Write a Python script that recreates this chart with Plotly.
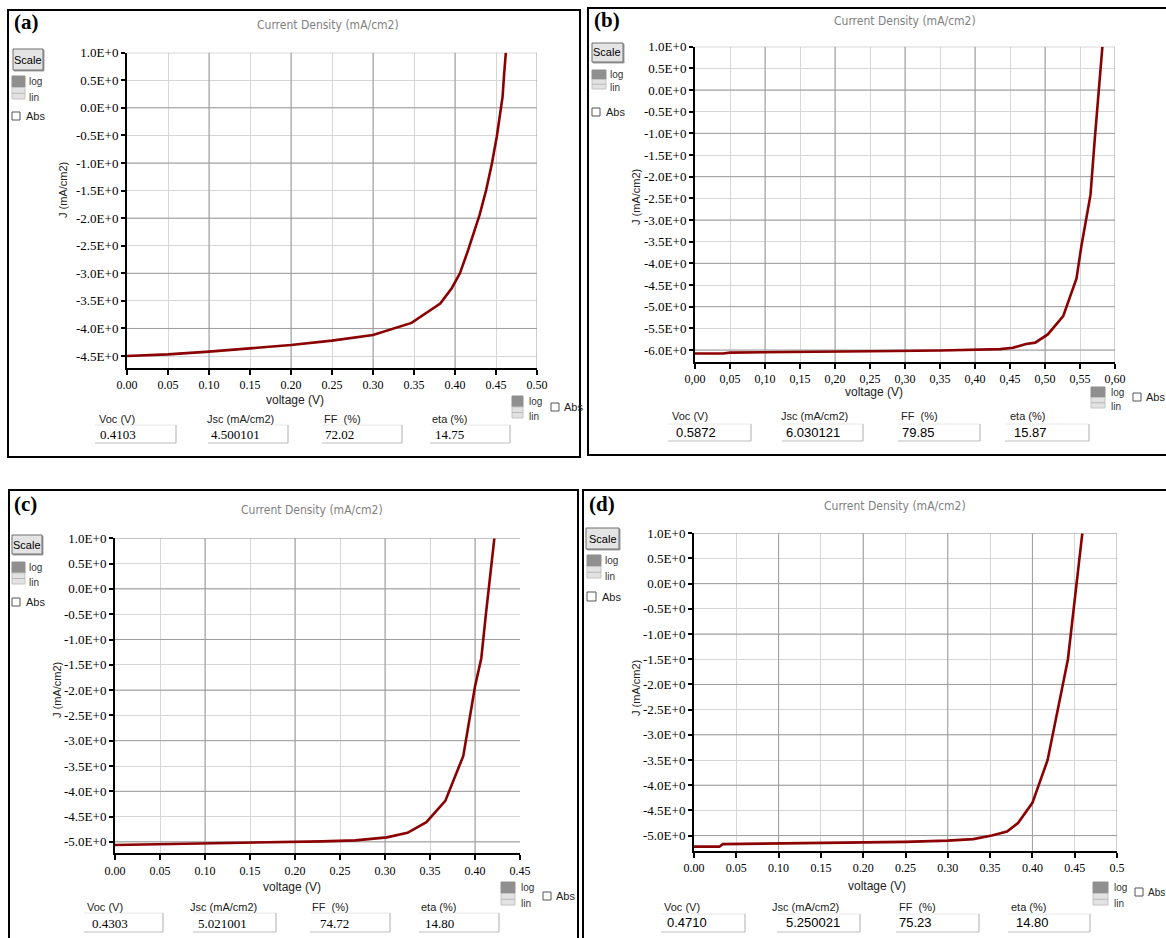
import plotly.graph_objects as go

W, H = 1166, 938

# ---------------- data ----------------
V_a = [0.0, 0.05, 0.10, 0.15, 0.20, 0.25, 0.30, 0.347, 0.382, 0.396, 0.406, 0.416, 0.430, 0.438, 0.445, 0.451, 0.456, 0.458, 0.460, 0.462]
J_a = [-4.50, -4.47, -4.42, -4.36, -4.30, -4.22, -4.12, -3.90, -3.55, -3.27, -3.00, -2.58, -1.94, -1.49, -1.01, -0.52, -0.01, 0.20, 0.63, 1.00]

V_b = [0.0, 0.04, 0.05, 0.15, 0.25, 0.35, 0.40, 0.436, 0.454, 0.473, 0.486, 0.504, 0.526, 0.545, 0.552, 0.565, 0.571, 0.578, 0.582]
J_b = [-6.08, -6.08, -6.06, -6.05, -6.03, -6.01, -6.00, -5.98, -5.95, -5.86, -5.83, -5.64, -5.22, -4.35, -3.60, -2.42, -1.15, 0.15, 1.00]

V_c = [0.0, 0.036, 0.10, 0.172, 0.23, 0.267, 0.302, 0.325, 0.346, 0.367, 0.387, 0.400, 0.407, 0.412, 0.417, 0.4215]
J_c = [-5.06, -5.05, -5.03, -5.01, -4.99, -4.97, -4.91, -4.82, -4.61, -4.19, -3.30, -1.93, -1.37, -0.52, 0.24, 1.00]

V_d = [0.0, 0.030, 0.034, 0.10, 0.19, 0.25, 0.30, 0.33, 0.352, 0.37, 0.383, 0.40, 0.418, 0.442, 0.459]
J_d = [-5.22, -5.22, -5.17, -5.16, -5.14, -5.125, -5.10, -5.07, -5.00, -4.92, -4.75, -4.35, -3.50, -1.50, 1.00]

yt_a_vals = [1.0, 0.5, 0.0, -0.5, -1.0, -1.5, -2.0, -2.5, -3.0, -3.5, -4.0, -4.5]
yt_a_text = ["1.0E+0", "0.5E+0", "0.0E+0", "-0.5E+0", "-1.0E+0", "-1.5E+0", "-2.0E+0", "-2.5E+0", "-3.0E+0", "-3.5E+0", "-4.0E+0", "-4.5E+0"]
yt_b_vals = [1.0, 0.5, 0.0, -0.5, -1.0, -1.5, -2.0, -2.5, -3.0, -3.5, -4.0, -4.5, -5.0, -5.5, -6.0]
yt_b_text = ["1.0E+0", "0.5E+0", "0.0E+0", "-0.5E+0", "-1.0E+0", "-1.5E+0", "-2.0E+0", "-2.5E+0", "-3.0E+0", "-3.5E+0", "-4.0E+0", "-4.5E+0", "-5.0E+0", "-5.5E+0", "-6.0E+0"]
yt_cd_vals = [1.0, 0.5, 0.0, -0.5, -1.0, -1.5, -2.0, -2.5, -3.0, -3.5, -4.0, -4.5, -5.0]
yt_cd_text = ["1.0E+0", "0.5E+0", "0.0E+0", "-0.5E+0", "-1.0E+0", "-1.5E+0", "-2.0E+0", "-2.5E+0", "-3.0E+0", "-3.5E+0", "-4.0E+0", "-4.5E+0", "-5.0E+0"]

xt_a_vals = [0.0, 0.05, 0.10, 0.15, 0.20, 0.25, 0.30, 0.35, 0.40, 0.45, 0.50]
xt_a_text = ["0.00", "0.05", "0.10", "0.15", "0.20", "0.25", "0.30", "0.35", "0.40", "0.45", "0.50"]
xt_b_vals = [0.0, 0.05, 0.10, 0.15, 0.20, 0.25, 0.30, 0.35, 0.40, 0.45, 0.50, 0.55, 0.60]
xt_b_text = ["0,00", "0,05", "0,10", "0,15", "0,20", "0,25", "0,30", "0,35", "0,40", "0,45", "0,50", "0,55", "0,60"]
xt_c_vals = [0.0, 0.05, 0.10, 0.15, 0.20, 0.25, 0.30, 0.35, 0.40, 0.45]
xt_c_text = ["0.00", "0.05", "0.10", "0.15", "0.20", "0.25", "0.30", "0.35", "0.40", "0.45"]
xt_d_vals = [0.0, 0.05, 0.10, 0.15, 0.20, 0.25, 0.30, 0.35, 0.40, 0.45, 0.50]
xt_d_text = ["0.00", "0.05", "0.10", "0.15", "0.20", "0.25", "0.30", "0.35", "0.40", "0.45", "0.5"]

labels = ["(a)", "(b)", "(c)", "(d)"]
voc = ["0.4103", "0.5872", "0.4303", "0.4710"]
jsc = ["4.500101", "6.030121", "5.021001", "5.250021"]
ff = ["72.02", "79.85", "74.72", "75.23"]
eta = ["14.75", "15.87", "14.80", "14.80"]
param_names = ["Voc (V)", "Jsc (mA/cm2)", "FF  (%)", "eta (%)"]

# ---------------- layout geometry (pixels) ----------------
panels = [
    dict(V=V_a, J=J_a, yv=yt_a_vals, yt=yt_a_text, xv=xt_a_vals, xt=xt_a_text,
         border=(8, 10, 580, 457), plot=(127, 52.7, 537, 368), xr=[0, 0.5], yr=[-4.717, 1.0],
         lab=(12, 22), title=(328, 25), ytitle=(63, 190), xtitle=(295, 400),
         scale=(13, 49, 43, 70), logic=(12, 76, 25, 99), abs_=(12, 112, 20, 120),
         plab_y=419, box_y=(425, 443), val_y=434,
         boxes=[(95, 176), (208, 288), (322, 402), (430, 510)], plab_x=[97, 205, 322, 430],
         val_x=[98, 209, 323, 433], valfont="Liberation Serif",
         br_log=(512, 396, 523, 418), br_abs=(551, 403, 559, 411)),
    dict(V=V_b, J=J_b, yv=yt_b_vals, yt=yt_b_text, xv=xt_b_vals, xt=xt_b_text,
         border=(588, 8, 1170, 455), plot=(695, 46.7, 1115, 362), xr=[0, 0.6], yr=[-6.277, 1.0],
         lab=(592, 20), title=(905, 21), ytitle=(636, 197), xtitle=(874, 392),
         scale=(592, 43, 623, 62), logic=(592, 70, 606, 89), abs_=(592, 108, 600, 116),
         plab_y=416, box_y=(424, 441), val_y=433,
         boxes=[(668, 751), (782, 863), (898, 980), (1005, 1089)], plab_x=[670, 779, 899, 1008],
         val_x=[674, 784, 900, 1012], valfont="Liberation Sans",
         br_log=(1091, 387, 1105, 408), br_abs=(1133, 393, 1141, 401)),
    dict(V=V_c, J=J_c, yv=yt_cd_vals, yt=yt_cd_text, xv=xt_c_vals, xt=xt_c_text,
         border=(9, 490, 578, 945), plot=(115, 538.3, 520, 853.3), xr=[0, 0.45], yr=[-5.225, 1.0],
         lab=(12, 504), title=(312, 510), ytitle=(57, 690), xtitle=(292, 887),
         scale=(12, 535, 42, 554), logic=(12, 562, 25, 584), abs_=(12, 598, 20, 606),
         plab_y=907, box_y=(913, 932), val_y=923,
         boxes=[(84, 163), (193, 276), (310, 390), (419, 499)], plab_x=[85, 188, 310, 419],
         val_x=[90, 196, 318, 423], valfont="Liberation Serif",
         br_log=(501, 882, 515, 905), br_abs=(543, 892, 551, 900)),
    dict(V=V_d, J=J_d, yv=yt_cd_vals, yt=yt_cd_text, xv=xt_d_vals, xt=xt_d_text,
         border=(583, 490, 1170, 945), plot=(694, 533.3, 1117, 850.7), xr=[0, 0.5], yr=[-5.30, 1.0],
         lab=(587, 504), title=(895, 506), ytitle=(636, 688), xtitle=(877, 886),
         scale=(586, 528, 619, 549), logic=(587, 555, 601, 578), abs_=(587, 592, 596, 601),
         plab_y=907, box_y=(914, 932), val_y=922,
         boxes=[(661, 745), (777, 860), (896, 979), (1008, 1090)], plab_x=[662, 770, 897, 1009],
         val_x=[665, 784, 897, 1014], valfont="Liberation Sans",
         br_log=(1093, 882, 1108, 905), br_abs=(1135, 888, 1143, 896)),
]

def fx(x):
    return x / W

def fy(y):
    return 1 - y / H

fig = go.Figure()
shapes = []
ann = []
layout = dict(width=W, height=H, margin=dict(l=0, r=0, t=0, b=0, autoexpand=False),
              paper_bgcolor="white", plot_bgcolor="white", showlegend=False)

SERIF = "Liberation Serif"
SANS = "Liberation Sans"

def text(x, y, s, size=11, color="black", family=SANS, xanchor="left", yanchor="middle", angle=0, bold=False):
    ann.append(dict(x=fx(x), y=fy(y), xref="paper", yref="paper", text=("<b>%s</b>" % s) if bold else s,
                    showarrow=False, xanchor=xanchor, yanchor=yanchor, textangle=angle,
                    font=dict(size=size, color=color, family=family)))

def rect(x0, y0, x1, y1, fill=None, line="black", width=1):
    shapes.append(dict(type="rect", xref="paper", yref="paper", x0=fx(x0), x1=fx(x1), y0=fy(y1), y1=fy(y0),
                       line=dict(color=line, width=width), fillcolor=fill if fill else "rgba(0,0,0,0)"))

def hline(x0, x1, y, color, width=1):
    shapes.append(dict(type="line", xref="paper", yref="paper", x0=fx(x0), x1=fx(x1), y0=fy(y), y1=fy(y),
                       line=dict(color=color, width=width)))

def vline(x, y0, y1, color, width=1):
    shapes.append(dict(type="line", xref="paper", yref="paper", x0=fx(x), x1=fx(x), y0=fy(y0), y1=fy(y1),
                       line=dict(color=color, width=width)))

def logicon(x0, y0, x1, y1, tx):
    ym = (y0 + y1) / 2
    h = y1 - y0
    rect(x0, y0, x1, ym, fill="#8f8f8f", line="#8f8f8f", width=1)
    rect(x0, ym, x1, y1, fill="#e2e2e2", line="#c4c4c4", width=1)
    hline(x0, x1, ym + (y1 - ym) / 2, "#b8b8b8", 1)
    text(tx, y0 + h * 0.24, "log", size=10, color="#333333")
    text(tx, y1 - h * 0.06, "lin", size=10, color="#333333")

def checkbox(x0, y0, x1, y1, tx, size=11):
    rect(x0, y0, x1, y1, fill="white", line="#555555", width=1)
    text(tx, (y0 + y1) / 2, "Abs", size=size, color="#222222")

for i, p in enumerate(panels, start=1):
    xa = "xaxis" if i == 1 else "xaxis%d" % i
    ya = "yaxis" if i == 1 else "yaxis%d" % i
    xr_id = "x" if i == 1 else "x%d" % i
    yr_id = "y" if i == 1 else "y%d" % i
    x0, y0, x1, y1 = p["plot"]
    layout[xa] = dict(domain=[fx(x0), fx(x1)], range=p["xr"], anchor=yr_id,
                      tickmode="array", tickvals=p["xv"], ticktext=p["xt"],
                      showgrid=True, gridcolor="#d6d6d6", gridwidth=1, zeroline=False,
                      showline=True, linecolor="black", linewidth=2, mirror=False,
                      ticks="outside", ticklen=5, tickwidth=1.5, tickcolor="black",
                      tickfont=dict(family=SERIF, size=12, color="black"), fixedrange=True,
                      automargin=False)
    layout[ya] = dict(domain=[fy(y1), fy(y0)], range=p["yr"], anchor=xr_id,
                      tickmode="array", tickvals=p["yv"], ticktext=p["yt"],
                      showgrid=True, gridcolor="#d6d6d6", gridwidth=1, zeroline=False,
                      showline=True, linecolor="black", linewidth=2, mirror=False,
                      ticks="outside", ticklen=4, tickwidth=1.5, tickcolor="black",
                      tickfont=dict(family=SERIF, size=13, color="black"), fixedrange=True,
                      automargin=False)
    # darker major grid lines (integer J, multiples of 0.1 V) as line traces in data coordinates
    gx, gy = [], []
    for v in p["yv"]:
        if abs(v - round(v)) < 1e-9:
            gx += [p["xr"][0], p["xr"][1], None]
            gy += [v, v, None]
    for v in p["xv"]:
        if v > 0 and abs(v * 10 - round(v * 10)) < 1e-9:
            gx += [v, v, None]
            gy += [p["yr"][0], p["yr"][1], None]
    fig.add_trace(go.Scatter(x=gx, y=gy, mode="lines", xaxis=xr_id, yaxis=yr_id,
                             line=dict(color="#9c9c9c", width=1), hoverinfo="skip"))
    fig.add_trace(go.Scatter(x=p["V"], y=p["J"], mode="lines", xaxis=xr_id, yaxis=yr_id,
                             line=dict(color="#8B0000", width=2.6), hoverinfo="skip"))

    # frame
    bx0, by0, bx1, by1 = p["border"]
    rect(bx0, by0, bx1, by1, line="black", width=2)
    # panel letter and titles
    text(p["lab"][0], p["lab"][1], labels[i - 1], size=21, family=SERIF, bold=True)
    text(p["title"][0], p["title"][1], "Current Density (mA/cm2)", size=12, color="#7f7f7f",
         family="DejaVu Sans Condensed, DejaVu Sans", xanchor="center")
    text(p["ytitle"][0], p["ytitle"][1], "J (mA/cm2)", size=11, color="#222222", xanchor="center",
         angle=-90)
    text(p["xtitle"][0], p["xtitle"][1], "voltage (V)", size=12, color="#222222",
         family="Liberation Sans Narrow, Liberation Sans", xanchor="center")
    # Scale button
    sx0, sy0, sx1, sy1 = p["scale"]
    rect(sx0 + 1, sy0 + 1, sx1 + 1, sy1 + 1, fill="#a0a0a0", line="#a0a0a0", width=1)
    rect(sx0, sy0, sx1, sy1, fill="#e4e4e4", line="#6e6e6e", width=1)
    text((sx0 + sx1) / 2, (sy0 + sy1) / 2, "Scale", size=11, xanchor="center")
    lx0, ly0, lx1, ly1 = p["logic"]
    logicon(lx0, ly0, lx1, ly1, lx1 + 2)
    ax0, ay0, ax1, ay1 = p["abs_"]
    checkbox(ax0, ay0, ax1, ay1, ax1 + 4)
    # bottom-right controls
    bl = p["br_log"]
    logicon(bl[0], bl[1], bl[2], bl[3], bl[2] + 4)
    ba = p["br_abs"]
    checkbox(ba[0], ba[1], ba[2], ba[3], ba[2] + 3, size=10 if i == 4 else 11)
    # parameter boxes
    vals = [voc[i - 1], jsc[i - 1], ff[i - 1], eta[i - 1]]
    for k in range(4):
        text(p["plab_x"][k], p["plab_y"], param_names[k], size=11, color="#222222")
        bxl, bxr = p["boxes"][k]
        yb0, yb1 = p["box_y"]
        hline(bxl, bxr, yb0, "#e8e8e8", 1)
        hline(bxl, bxr, yb1, "#bdbdbd", 1.2)
        vline(bxr, yb0, yb1, "#bdbdbd", 1.2)
        text(p["val_x"][k], p["val_y"], vals[k], size=13, family=p["valfont"])

layout["shapes"] = shapes
layout["annotations"] = ann
fig.update_layout(**layout)
fig.write_html("out.html")
